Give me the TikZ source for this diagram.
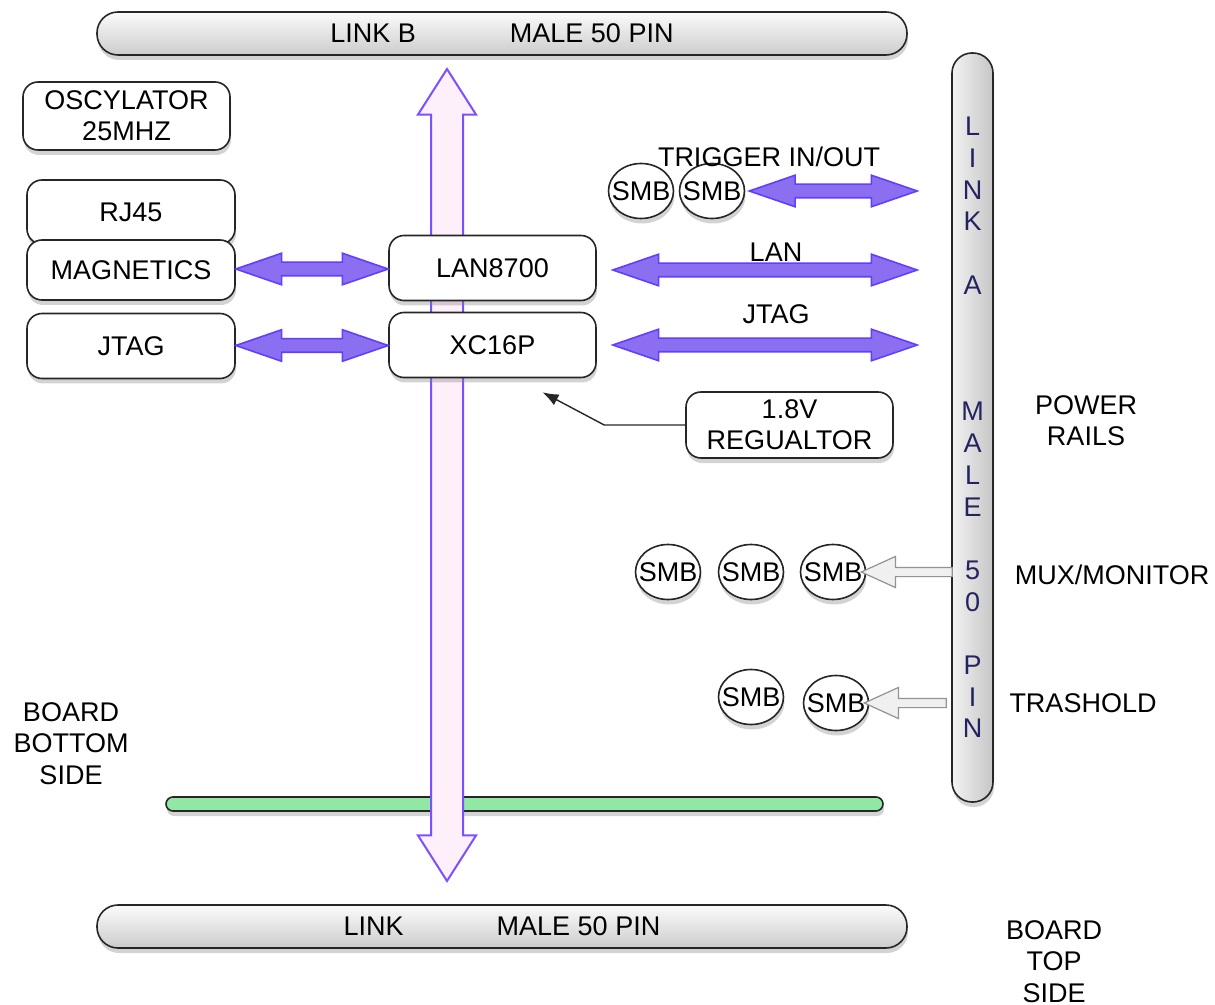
\documentclass[tikz,border=0pt]{standalone}
\usepackage{fontspec}
\setmainfont{Liberation Sans}
\usetikzlibrary{shapes.geometric,shapes.arrows,shadows,calc,arrows.meta}

\definecolor{busfill}{RGB}{253,240,251}
\definecolor{busline}{RGB}{122,80,255}
\definecolor{linkfill}{RGB}{140,110,240}
\definecolor{linkline}{RGB}{98,62,255}
\definecolor{pinblue}{RGB}{35,35,95}
\definecolor{railgreen}{RGB}{145,232,165}

\begin{document}
\begin{tikzpicture}[x=0.5pt,y=-0.5pt,
  every node/.style={font=\fontsize{13.5}{15.5}\selectfont},
  softshadow/.style={drop shadow={shadow xshift=0.5pt,shadow yshift=-2.5pt,opacity=0.35}},
  box/.style={draw=black!85, line width=0.8pt, fill=white, rounded corners=7.5pt,
    minimum width=103.5pt, minimum height=32.5pt, align=center, inner sep=0pt, softshadow},
  connbar/.style={draw=black!85, line width=0.8pt, rounded corners=10.5pt,
    top color=gray!3, bottom color=gray!40, minimum width=405pt, minimum height=21.5pt,
    inner sep=0pt, softshadow},
  smb/.style={ellipse, draw=black!85, line width=0.8pt, fill=white, inner sep=0pt,
    minimum width=32.5pt, minimum height=27.5pt, softshadow},
  link/.style={double arrow, draw=linkline, fill=linkfill, line width=0.8pt,
    inner xsep=0pt, inner ysep=3pt, double arrow head extend=4.5pt, double arrow tip angle=38},
  bus/.style={double arrow, draw=busline, fill=busfill, line width=1pt, rotate=90,
    inner xsep=0pt, inner ysep=7.5pt, double arrow head extend=6.5pt, double arrow tip angle=65},
  tap/.style={single arrow, draw=gray!85, fill=gray!12, line width=0.6pt, rotate=180,
    inner xsep=0pt, inner ysep=2pt, single arrow head extend=5.5pt, single arrow tip angle=49}
]
\useasboundingbox (0,0) rectangle (1215,1005);

\node[connbar] (linkb) at (502,33.5) {LINK B\hspace{47pt}MALE 50 PIN};
\node[connbar] (link) at (502,926.5) {LINK\hspace{46.5pt}MALE 50 PIN};
\node[draw=black!85, line width=0.8pt, rounded corners=10pt, left color=gray!10, right color=gray!45,
  minimum width=20.5pt, minimum height=374.5pt, inner sep=0pt, align=center, text=pinblue,
  font=\fontsize{13.5}{15.85}\selectfont, softshadow] (linka) at (972.5,427.5)
  {L\\I\\N\\K\\\mbox{}\\A\\\mbox{}\\\mbox{}\\\mbox{}\\M\\A\\L\\E\\\mbox{}\\5\\0\\\mbox{}\\P\\I\\N};
\node[draw=black!85, line width=0.8pt, rounded corners=3.5pt, fill=railgreen,
  minimum width=358.5pt, minimum height=7pt, inner sep=0pt, softshadow] (rail) at (524.5,804) {};

\coordinate (bustop) at (447,69);
\coordinate (busbot) at (447,881);
\path let \p1=(bustop), \p2=(busbot), \n1={veclen(\x2-\x1,\y2-\y1)} in
  node[bus, minimum height=\n1] (busarrow) at ($(\p1)!0.5!(\p2)$) {};

\node[box, minimum height=34pt] (osc) at (126.5,116) {OSCYLATOR\\25MHZ};
\node[box, minimum width=104pt, minimum height=32pt] (rj45) at (131,212) {RJ45};
\node[box, minimum width=104pt, minimum height=30pt] (mag) at (131,270) {MAGNETICS};
\node[box, minimum width=104pt] (jtagbox) at (131,346) {JTAG};
\node[box] (lan) at (492.5,268) {LAN8700};
\node[box] (xc) at (492.5,345) {XC16P};
\node[box, minimum height=33pt] (reg) at (789.5,425) {1.8V\\REGUALTOR};

\node[smb] (trig1) at (641,191) {\makebox[0pt]{SMB}};
\node[smb] (trig2) at (712,191) {\makebox[0pt]{SMB}};
\node[smb] (mux1) at (668,572) {\makebox[0pt]{SMB}};
\node[smb] (mux2) at (751,572) {\makebox[0pt]{SMB}};
\node[smb] (mux3) at (833,572) {\makebox[0pt]{SMB}};
\node[smb] (thr1) at (751,697) {\makebox[0pt]{SMB}};
\node[smb] (thr2) at (836,703) {\makebox[0pt]{SMB}};

\path let \p1=(mag.east), \p2=(lan.west), \n1={veclen(\x2-\x1,\y2-\y1)} in
  node[link, minimum height=\n1] at ($(\p1)!0.5!(\p2)$) {};
\path let \p1=(jtagbox.east), \p2=(xc.west), \n1={veclen(\x2-\x1,\y2-\y1)} in
  node[link, minimum height=\n1] at ($(\p1)!0.5!(\p2)$) {};
\path let \p1=([xshift=8pt]lan.east), \p2=($(linka.west |- lan.east)+(-17pt,-2pt)$),
  \n1={veclen(\x2-\x1,0)} in
  node[link, minimum height=\n1] at ($(\p1)!0.5!(\p2)$) {};
\path let \p1=([xshift=8pt]xc.east), \p2=($(linka.west |- xc.east)+(-17pt,0)$),
  \n1={veclen(\x2-\x1,0)} in
  node[link, minimum height=\n1] at ($(\p1)!0.5!(\p2)$) {};
\path let \p1=([xshift=2pt]trig2.east), \p2=($(linka.west |- trig2.east)+(-17pt,0)$),
  \n1={veclen(\x2-\x1,0)} in
  node[link, minimum height=\n1] at ($(\p1)!0.5!(\p2)$) {};

\path let \p1=(mux3.east), \p2=([xshift=3pt]linka.west |- mux3.east),
  \n1={veclen(\x2-\x1,0)} in
  node[tap, minimum height=\n1] at ($(\p1)!0.5!(\p2)$) {};
\path let \p1=(thr2.east), \p2=(linka.west |- thr2.east),
  \n1={veclen(\x2-\x1,0)} in
  node[tap, minimum height=\n1] at ($(\p1)!0.5!(\p2)$) {};

\draw[black!85, line width=0.7pt, -{Latex[length=8pt,width=6pt]}]
  (reg.west) -- ++(-40.5pt,0) -- ([xshift=25pt,yshift=-7pt]xc.south);

\node (trigtxt) at (769,157) {TRIGGER IN/OUT};
\node (lantxt) at (776,252) {LAN};
\node (jtagtxt) at (776,314) {JTAG};
\node[align=center] (railtxt) at (1086,420.5) {POWER\\RAILS};
\node (muxtxt) at (1112,575) {MUX/MONITOR};
\node (thrtxt) at (1083,703) {TRASHOLD};
\node[align=center, font=\fontsize{13.5}{15.75}\selectfont] (bottxt) at (71,743.5) {BOARD\\BOTTOM\\SIDE};
\node[align=center, font=\fontsize{13.5}{15.75}\selectfont] (toptxt) at (1054,961.5) {BOARD\\TOP\\SIDE};
\end{tikzpicture}
\end{document}
